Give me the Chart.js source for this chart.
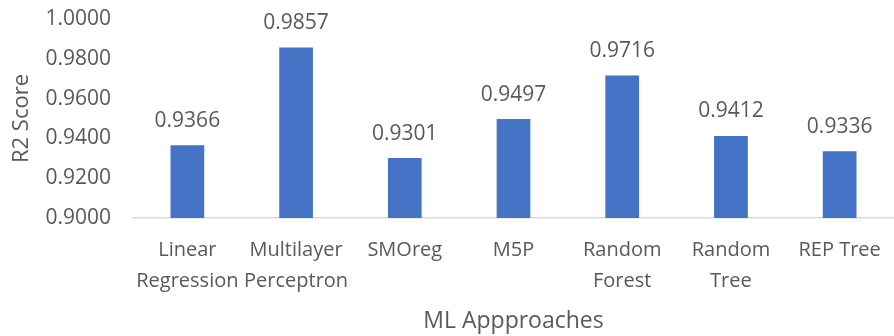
<!DOCTYPE html>
<html>
<head>
<meta charset="utf-8">
<script src="https://cdn.jsdelivr.net/npm/chart.js@4"></script>
<style>
  html, body { margin: 0; padding: 0; background: #fff; }
  #wrap { width: 894px; height: 336px; }
</style>
</head>
<body>
<div id="wrap"><canvas id="r2Chart"></canvas></div>
<script>
const categories = [
    ['Linear', 'Regression'],
    ['Multilayer', 'Perceptron'],
    'SMOreg',
    'M5P',
    ['Random', 'Forest'],
    ['Random', 'Tree'],
    'REP Tree'
];
const r2Scores = [0.9366, 0.9857, 0.9301, 0.9497, 0.9716, 0.9412, 0.9336];
const yMin = 0.9, yMax = 1.0, yStep = 0.02;

const textColor = '#595959';
const fontFamily = "'Open Sans', 'Noto Sans', sans-serif";

// draws the value above each bar
const barValues = {
    id: 'barValues',
    afterDatasetsDraw(chart) {
        const ctx = chart.ctx;
        const meta = chart.getDatasetMeta(0);
        ctx.save();
        ctx.fillStyle = textColor;
        ctx.font = '21px ' + fontFamily;
        ctx.textAlign = 'center';
        ctx.textBaseline = 'bottom';
        meta.data.forEach(function (bar, i) {
            ctx.fillText(r2Scores[i].toFixed(4), bar.x, bar.y - 14);
        });
        ctx.restore();
    }
};

const ctx = document.getElementById('r2Chart').getContext('2d');
new Chart(ctx, {
    type: 'bar',
    data: {
        labels: categories,
        datasets: [{
            data: r2Scores,
            backgroundColor: '#4472C4',
            borderWidth: 0,
            categoryPercentage: 1.0,
            barPercentage: 0.31
        }]
    },
    options: {
        responsive: true,
        maintainAspectRatio: false,
        animation: false,
        layout: { padding: { top: 19, right: 0, left: 0, bottom: 0 } },
        plugins: {
            legend: { display: false },
            tooltip: { enabled: false }
        },
        scales: {
            x: {
                grid: { display: false, drawTicks: false },
                border: { display: true, color: '#D9D9D9', width: 1.5 },
                ticks: {
                    color: textColor,
                    font: { family: fontFamily, size: 20, lineHeight: 1.55 },
                    padding: 17,
                    maxRotation: 0,
                    autoSkip: false
                },
                title: {
                    display: true,
                    text: 'ML Appproaches',
                    color: textColor,
                    font: { family: fontFamily, size: 23 },
                    padding: { top: 0, bottom: 1 }
                },
                afterFit: function (scale) {
                    scale.height = 118;
                    scale.paddingRight = 0;
                }
            },
            y: {
                min: yMin,
                max: yMax,
                grid: { display: false, drawTicks: false },
                border: { display: false },
                ticks: {
                    stepSize: yStep,
                    color: textColor,
                    font: { family: fontFamily, size: 21 },
                    padding: 22,
                    callback: function (v) { return Number(v).toFixed(4); }
                },
                title: {
                    display: true,
                    text: 'R2 Score',
                    color: textColor,
                    font: { family: fontFamily, size: 22 },
                    padding: { top: 9, bottom: 0 }
                },
                afterFit: function (scale) {
                    scale.width = 133;
                    scale.paddingTop = 0;
                    scale.paddingBottom = 0;
                }
            }
        }
    },
    plugins: [barValues]
});
</script>
</body>
</html>
